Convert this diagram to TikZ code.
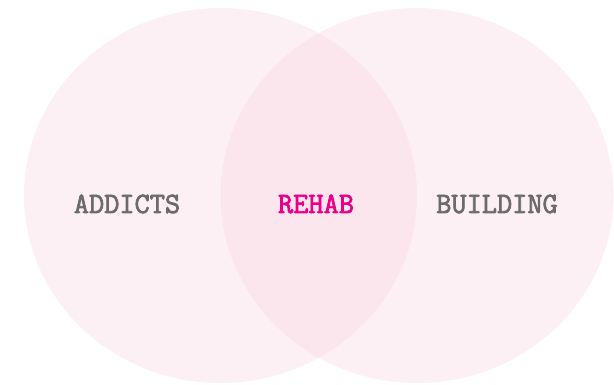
\documentclass[tikz,border=0pt]{standalone}
\usepackage{fontspec}
\newfontfamily\vennfont{Latin Modern Mono}[FakeBold=2.5]
\usepackage{tikz}

\definecolor{vennpink}{RGB}{248,206,220}
\definecolor{labelgray}{RGB}{107,107,107}
\definecolor{hotpink}{RGB}{234,0,135}

\tikzset{
  setfill/.style={fill=vennpink, fill opacity=0.3},
  setlabel/.style={anchor=base, font=\fontsize{29.5}{29.5}\selectfont\vennfont, text=labelgray, inner sep=0pt}
}

\begin{document}
\begin{tikzpicture}[x=1pt, y=-1pt]
  \useasboundingbox (0, 0) rectangle (614, 385);

  % les deux ensembles
  \begin{scope}
    \fill[setfill] (220.5, 195.5) ellipse [x radius=196.5, y radius=187.5];
    \fill[setfill] (417, 195.5) ellipse [x radius=196.5, y radius=187.5];
  \end{scope}

  % etiquettes
  \node[setlabel] (addicts) at (127, 213) {ADDICTS};
  \node[setlabel, text=hotpink] (rehab) at (316, 213) {REHAB};
  \node[setlabel] (building) at (497, 213) {BUILDING};
\end{tikzpicture}
\end{document}
